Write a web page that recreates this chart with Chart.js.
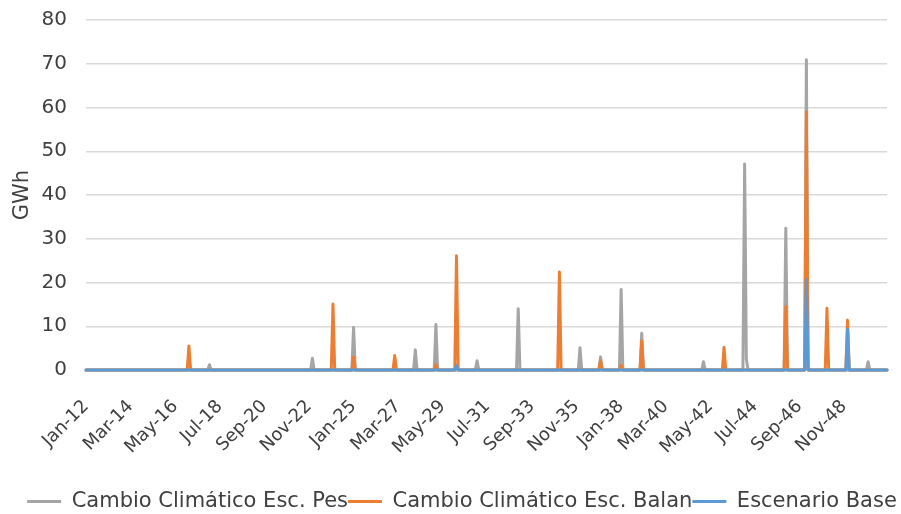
<!DOCTYPE html>
<html>
<head>
<meta charset="utf-8">
<script src="https://cdn.jsdelivr.net/npm/chart.js@4"></script>
<style>
  html, body { margin: 0; padding: 0; background: #fff; }
  #wrap { width: 901px; height: 514px; position: relative; }
</style>
</head>
<body>
<div id="wrap"><canvas id="chart"></canvas></div>
<script>
// Meses con valor (el resto de meses es 0)
const spikeMonths = ["Jan-17", "Jan-18", "Jan-23", "Jan-24", "Jan-25", "Jan-27", "Jan-28", "Jan-29", "Jan-30", "Jan-31",
  "Jan-33", "Jan-35", "Jan-36", "Jan-37", "Jan-38", "Jan-39", "Jan-42", "Jan-43", "Jan-44", "Feb-44",
  "Jan-46", "Jan-47", "Jan-48", "Jan-49", "Jan-50"];
const pesValues =   [0, 1.2, 2.7, 0, 9.7, 0, 4.6, 10.4, 0, 2.1,
  14.0, 0, 5.1, 3.0, 18.4, 8.4, 1.9, 0, 47.1, 2.5,
  32.4, 70.9, 0, 0, 1.9];
const balanValues = [5.5, 0, 0, 15.1, 3.0, 3.3, 0, 1.2, 26.1, 0,
  0, 22.4, 0, 2.1, 1.1, 6.7, 0, 5.2, 0, 0,
  14.5, 59.0, 14.1, 11.4, 0];
const baseValues =  [0, 0, 0, 0, 0, 0, 0, 0, 1.0, 0,
  0, 0, 0, 0, 0, 0, 0, 0, 0, 0,
  0, 20.6, 0, 9.3, 0];

const monthNames = ["Jan", "Feb", "Mar", "Apr", "May", "Jun", "Jul", "Aug", "Sep", "Oct", "Nov", "Dec"];
const firstYear = 2012;
const lastYear = 2050;

// Etiquetas visibles del eje X
const tickLabels = ["Jan-12", "Mar-14", "May-16", "Jul-18", "Sep-20", "Nov-22", "Jan-25", "Mar-27", "May-29",
  "Jul-31", "Sep-33", "Nov-35", "Jan-38", "Mar-40", "May-42", "Jul-44", "Sep-46", "Nov-48"];

const seriesNames = ["Cambio Climático Esc. Pes", "Cambio Climático Esc. Balan", "Escenario Base"];
const seriesColors = ["#A5A5A5", "#ED7D31", "#5B9BD5"];

// categorías mensuales Jan-12 ... Dec-50
const labels = [];
for (let y = firstYear; y <= lastYear; y++) {
  monthNames.forEach((m) => labels.push(m + "-" + String(y).slice(2)));
}

function fullSeries(values) {
  return labels.map((lab) => {
    const i = spikeMonths.indexOf(lab);
    return i >= 0 ? values[i] : 0;
  });
}

Chart.defaults.font.family = "'DejaVu Sans', sans-serif";
Chart.defaults.font.size = 20;
Chart.defaults.color = "#404040";

const allValues = [pesValues, balanValues, baseValues];

// la leyenda del original está algo desplazada a la derecha
const legendShift = {
  id: "legendShift",
  afterLayout(chart) {
    chart.legend.left += 12;
    chart.legend.right += 12;
  },
};

new Chart(document.getElementById("chart"), {
  type: "line",
  data: {
    labels: labels,
    datasets: seriesNames.map((name, k) => ({
      label: name,
      data: fullSeries(allValues[k]),
      borderColor: seriesColors[k],
      backgroundColor: seriesColors[k],
      borderWidth: 3,
      borderJoinStyle: "round",
      borderCapStyle: "round",
      pointRadius: 0,
      pointStyle: "line",
      tension: 0,
      clip: 4,
      order: 3 - k, // la base queda encima
    })),
  },
  plugins: [legendShift],
  options: {
    responsive: true,
    maintainAspectRatio: false,
    animation: false,
    layout: { padding: { top: 0, right: 7, left: 6, bottom: -8 } },
    plugins: {
      legend: {
        position: "bottom",
        labels: {
          usePointStyle: true,
          pointStyleWidth: 34,
          padding: 0,
          font: { size: 21 },
          sort: (a, b) => a.datasetIndex - b.datasetIndex,
        },
      },
      tooltip: { enabled: false },
    },
    scales: {
      x: {
        grid: { display: false },
        border: { display: false },
        afterFit: (scale) => {
          scale.height = 121;
          scale.paddingRight = 14;
        },
        ticks: {
          autoSkip: false,
          maxRotation: 45,
          minRotation: 45,
          padding: 18,
          font: { size: 18 },
          callback: function (value) {
            const lab = this.getLabelForValue(value);
            return tickLabels.includes(lab) ? lab : "";
          },
        },
      },
      y: {
        min: 0,
        max: 80,
        border: { display: false },
        grid: { color: "#D9D9D9", lineWidth: 1.5, drawTicks: false },
        afterFit: (scale) => {
          scale.width = 80;
          scale.paddingTop = 20;
        },
        ticks: { stepSize: 10, padding: 19 },
        title: {
          display: true,
          text: "GWh",
          font: { size: 21 },
          padding: { top: 4, bottom: 8 },
        },
      },
    },
  },
});
</script>
</body>
</html>
